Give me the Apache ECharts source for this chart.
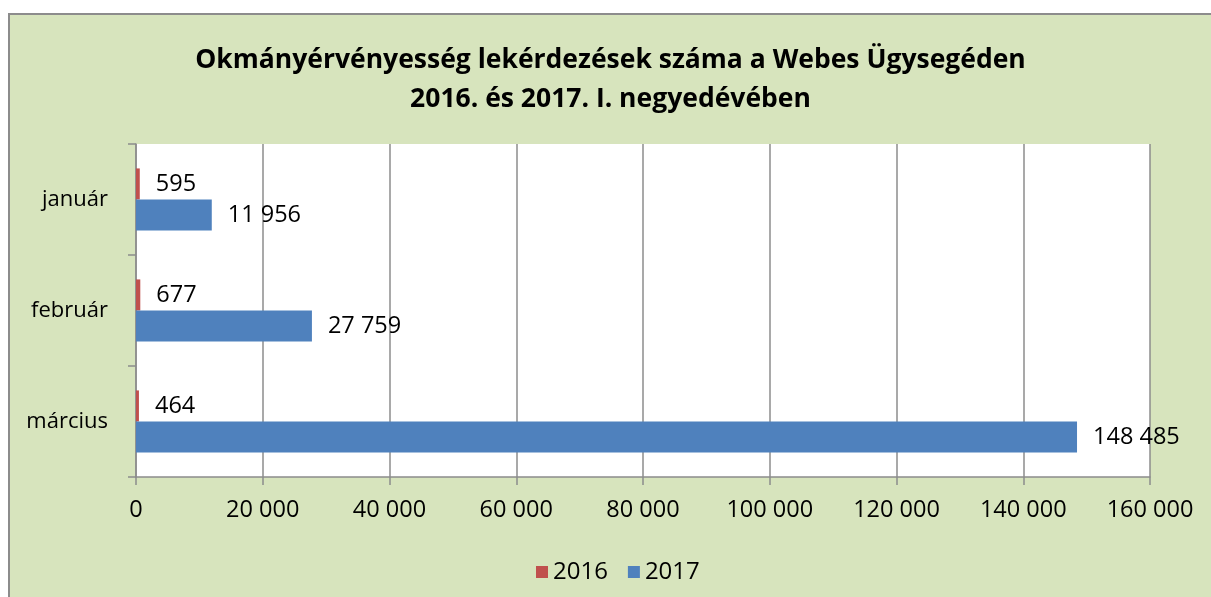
<!DOCTYPE html>
<html>
<head>
<meta charset="utf-8">
<script src="https://cdn.jsdelivr.net/npm/echarts@6/dist/echarts.min.js"></script>
<style>
  html, body { margin: 0; padding: 0; background: #fff; }
  #chart {
    position: absolute; left: 8px; top: 13px;
    width: 1201px; height: 582px;
    background: #d7e4bd;
    border-left: 2px solid #8c8c8c;
    border-top: 2px solid #8c8c8c;
  }
</style>
</head>
<body>
<div id="chart"></div>
<script>
// adatok
const months = ["január", "február", "március"];
const values2016 = [595, 677, 464];
const values2017 = [11956, 27759, 148485];
const seriesNames = ["2016", "2017"];

const fontFamily = "'Open Sans', sans-serif";

function fmt(v) {
  return String(v).replace(/\B(?=(\d{3})+(?!\d))/g, " ");
}

const chart = echarts.init(document.getElementById("chart"));

const labelStyle = {
  show: true,
  position: "right",
  distance: 16,
  color: "#000",
  fontSize: 23.5,
  fontFamily: fontFamily,
  formatter: p => fmt(p.value),
};

chart.setOption({
  backgroundColor: "transparent",
  animation: false,
  title: {
    text: "Okmányérvényesség lekérdezések száma a Webes Ügysegéden\n2016. és 2017. I. negyedévében",
    left: "center",
    top: 21,
    textStyle: {
      color: "#000",
      fontSize: 26.5,
      fontWeight: "bold",
      fontFamily: fontFamily,
      lineHeight: 39,
    },
  },
  legend: {
    data: seriesNames,
    left: 521,
    top: 540,
    icon: "rect",
    itemWidth: 12,
    itemHeight: 12,
    itemGap: 20,
    textStyle: { color: "#000", fontSize: 24, fontFamily: fontFamily },
  },
  grid: {
    left: 126,
    right: 61,
    top: 129,
    bottom: 120,
    show: true,
    backgroundColor: "#fff",
    borderWidth: 0,
  },
  xAxis: {
    type: "value",
    min: 0,
    max: 160000,
    interval: 20000,
    axisLine: { show: true, lineStyle: { color: "#8c8c8c", width: 1.5 } },
    axisTick: { show: true, length: 8, lineStyle: { color: "#8c8c8c", width: 1.5 } },
    splitLine: { show: true, lineStyle: { color: "#8c8c8c", width: 1.5 } },
    axisLabel: {
      color: "#000",
      fontSize: 23.5,
      fontFamily: fontFamily,
      margin: 21,
      formatter: v => fmt(v),
    },
  },
  yAxis: {
    type: "category",
    inverse: true,
    data: months,
    axisLine: { show: true, lineStyle: { color: "#8c8c8c", width: 1.5 } },
    axisTick: { show: true, length: 8, lineStyle: { color: "#8c8c8c", width: 1.5 } },
    axisLabel: {
      color: "#000",
      fontSize: 22,
      fontFamily: fontFamily,
      margin: 28,
    },
  },
  series: [
    {
      name: seriesNames[0],
      type: "bar",
      data: values2016,
      barGap: "0%",
      barCategoryGap: "44%",
      itemStyle: { color: "#c0504d" },
      label: labelStyle,
    },
    {
      name: seriesNames[1],
      type: "bar",
      data: values2017,
      barGap: "0%",
      barCategoryGap: "44%",
      itemStyle: { color: "#4f81bd" },
      label: labelStyle,
    },
  ],
});
</script>
</body>
</html>
